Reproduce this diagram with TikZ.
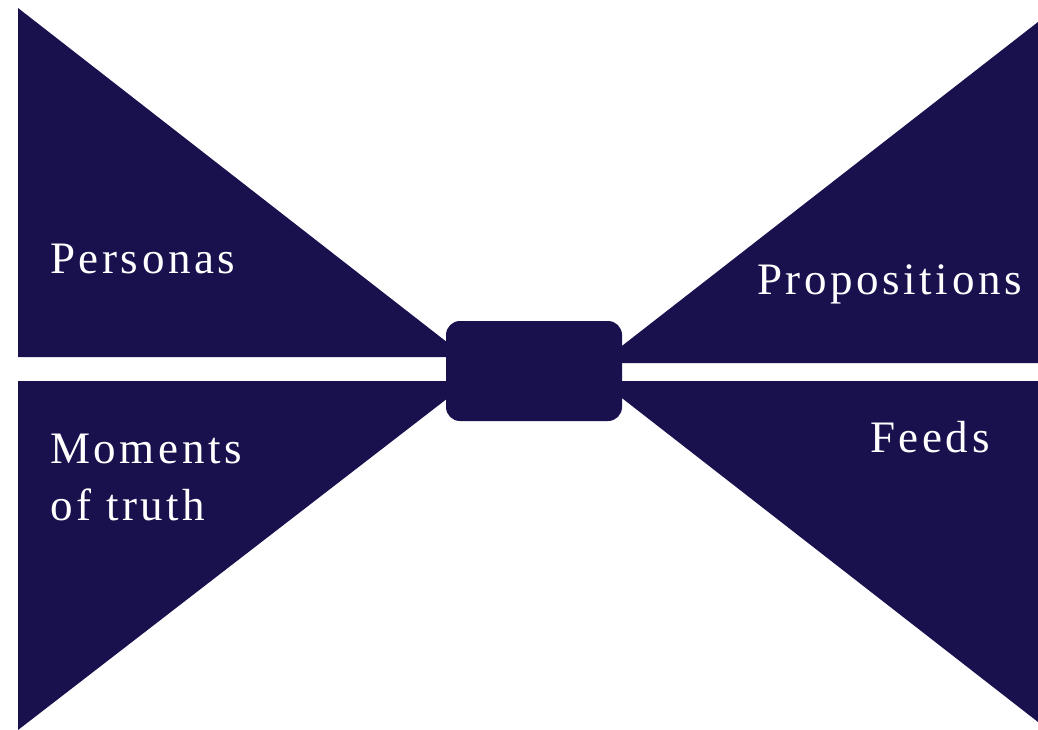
\documentclass[tikz,border=0pt]{standalone}
\usepackage{fontspec}
\newfontfamily\labelfont[LetterSpace=8]{Liberation Serif}
\definecolor{navy}{RGB}{25,16,78}
\begin{document}
\begin{tikzpicture}[x=1pt,y=-1pt,
  wing/.style={fill=navy},
  hubbox/.style={fill=navy, rounded corners=14pt, minimum width=176pt, minimum height=100pt, inner sep=0pt},
  wordlabel/.style={text=white, font=\labelfont\fontsize{45}{57}\selectfont, inner sep=0pt, align=left}]
  \useasboundingbox (0,0) rectangle (1038,730);
  % four wings of the bow tie
  \fill[wing] (18,8) -- (18,357) -- (466,357) -- cycle;
  \fill[wing] (18,381) -- (18,730) -- (470,381) -- cycle;
  \fill[wing] (1038,22) -- (1038,363) -- (600,363) -- cycle;
  \fill[wing] (1038,381) -- (1038,722) -- (600,381) -- cycle;
  % central knot
  \node[hubbox] (hub) at (534,371) {};
  % labels
  \node[wordlabel, anchor=base west] (personas) at (50,273) {Personas};
  \node[wordlabel, anchor=base west] (moments) at (50,520) {Moments\\of truth};
  \node[wordlabel, anchor=base west] (propositions) at (757,294) {Propositions};
  \node[wordlabel, anchor=base west] (feeds) at (870,452) {Feeds};
\end{tikzpicture}
\end{document}
